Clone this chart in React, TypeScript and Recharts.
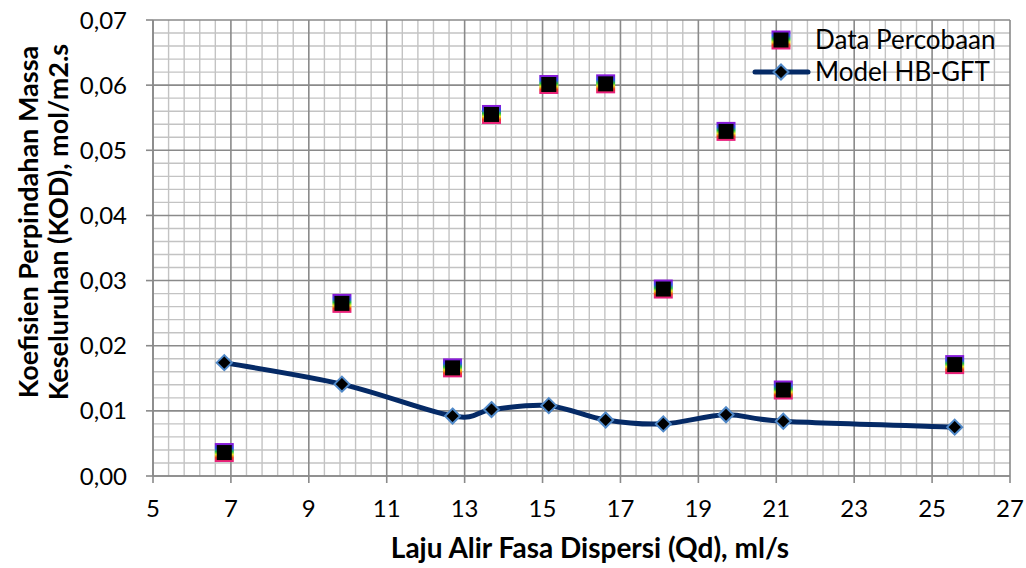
import React from "react";
import { LineChart, Line, XAxis, YAxis, ReferenceLine } from "recharts";

const qd = [6.83, 9.85, 12.69, 13.69, 15.16, 16.62, 18.1, 19.71, 21.18, 25.58];
const dataPercobaan = [0.0036, 0.0265, 0.0166, 0.0555, 0.0601, 0.0602, 0.0287, 0.0529, 0.0132, 0.0171];
const modelHB = [0.0174, 0.0141, 0.0092, 0.0102, 0.0108, 0.0086, 0.008, 0.0094, 0.0084, 0.0075];

const xTicks = [5, 7, 9, 11, 13, 15, 17, 19, 21, 23, 25, 27];
const yTicks = [0, 0.01, 0.02, 0.03, 0.04, 0.05, 0.06, 0.07];
const xMinorStep = 0.4;
const yMinorStep = 0.002;

const xTitle = "Laju Alir Fasa Dispersi (Qd), ml/s";
const yTitle1 = "Koefisien Perpindahan Massa";
const yTitle2 = "Keseluruhan (KOD), mol/m2.s";
const legendExp = "Data Percobaan";
const legendModel = "Model HB-GFT";

const rows = qd.map((x, i) => ({ x, exp: dataPercobaan[i], model: modelHB[i] }));

const minorX: number[] = [];
for (let k = 0; k <= 55; k++) {
  const v = +(5 + k * xMinorStep).toFixed(2);
  if (!xTicks.includes(v)) minorX.push(v);
}
const minorY: number[] = [];
for (let k = 0; k <= 35; k++) {
  const v = +(k * yMinorStep).toFixed(4);
  if (!yTicks.some((t) => Math.abs(t - v) < 1e-9)) minorY.push(v);
}

const FONT = "Lato, 'Open Sans', sans-serif";
const MINOR = "#c3c3c3";
const MAJOR = "#8a8a8a";
const LINE = "#052a66";
const DIAMOND_STROKE = "#4f88c8";

// Excel-like smoothed curve (Catmull-Rom as Bezier)
const excelCurve = (context: any) => {
  let pts: number[][] = [];
  return {
    areaStart() {},
    areaEnd() {},
    lineStart() {
      pts = [];
    },
    point(x: number, y: number) {
      pts.push([x, y]);
    },
    lineEnd() {
      const n = pts.length;
      if (!n) return;
      context.moveTo(pts[0][0], pts[0][1]);
      for (let i = 0; i < n - 1; i++) {
        const p0 = pts[Math.max(i - 1, 0)];
        const p1 = pts[i];
        const p2 = pts[i + 1];
        const p3 = pts[Math.min(i + 2, n - 1)];
        context.bezierCurveTo(
          p1[0] + (p2[0] - p0[0]) / 6,
          p1[1] + (p2[1] - p0[1]) / 6,
          p2[0] - (p3[0] - p1[0]) / 6,
          p2[1] - (p3[1] - p1[1]) / 6,
          p2[0],
          p2[1]
        );
      }
    },
  };
};

const SquareDot = (props: any) => {
  const { cx, cy } = props;
  if (cx == null || cy == null) return null;
  return (
    <rect x={cx - 8.5} y={cy - 8.5} width={17} height={17} fill="#000" stroke="url(#rainbow)" strokeWidth={2} />
  );
};

const DiamondDot = (props: any) => {
  const { cx, cy } = props;
  if (cx == null || cy == null) return null;
  const r = 7.5;
  return (
    <polygon
      points={`${cx},${cy - r} ${cx + r},${cy} ${cx},${cy + r} ${cx - r},${cy}`}
      fill="#000"
      stroke={DIAMOND_STROKE}
      strokeWidth={2}
    />
  );
};

const Gradient = () => (
  <svg width={0} height={0} style={{ position: "absolute" }}>
    <defs>
      <linearGradient id="rainbow" x1="0" y1="0" x2="0" y2="1">
        <stop offset="0%" stopColor="#8a1ad8" />
        <stop offset="25%" stopColor="#3050f0" />
        <stop offset="45%" stopColor="#20c040" />
        <stop offset="62%" stopColor="#e8e020" />
        <stop offset="80%" stopColor="#f04020" />
        <stop offset="100%" stopColor="#e8207e" />
      </linearGradient>
    </defs>
  </svg>
);

export default function App() {
  return (
    <div style={{ position: "absolute", left: 0, top: 0, width: 1026, height: 568, fontFamily: FONT }}>
      <Gradient />
      <LineChart width={1026} height={568} data={rows} margin={{ top: 20, right: 16, bottom: 32, left: 0 }}>
        {minorX.map((v) => (
          <ReferenceLine key={"mx" + v} x={v} stroke={MINOR} strokeWidth={1.4} />
        ))}
        {minorY.map((v) => (
          <ReferenceLine key={"my" + v} y={v} stroke={MINOR} strokeWidth={1.4} />
        ))}
        {xTicks.map((v) => (
          <ReferenceLine key={"Mx" + v} x={v} stroke={MAJOR} strokeWidth={1.6} />
        ))}
        {yTicks.map((v) => (
          <ReferenceLine key={"My" + v} y={v} stroke={MAJOR} strokeWidth={1.6} />
        ))}
        <XAxis
          type="number"
          dataKey="x"
          domain={[5, 27]}
          ticks={xTicks}
          interval={0}
          height={60}
          tickSize={7}
          tickMargin={17}
          axisLine={{ stroke: MAJOR, strokeWidth: 1.6 }}
          tickLine={{ stroke: MAJOR, strokeWidth: 1.6 }}
          tick={{ fill: "#000", fontSize: 24, fontFamily: FONT }}
        />
        <YAxis
          type="number"
          domain={[0, 0.07]}
          ticks={yTicks}
          interval={0}
          width={153}
          tickSize={7}
          tickMargin={19}
          tickFormatter={(v: number) => v.toFixed(2).replace(".", ",")}
          axisLine={{ stroke: MAJOR, strokeWidth: 1.6 }}
          tickLine={{ stroke: MAJOR, strokeWidth: 1.6 }}
          tick={{ fill: "#000", fontSize: 24, fontFamily: FONT }}
        />
        <Line
          dataKey="model"
          type={excelCurve as any}
          stroke={LINE}
          strokeWidth={5}
          dot={<DiamondDot />}
          activeDot={false}
          isAnimationActive={false}
          legendType="none"
        />
        <Line
          dataKey="exp"
          stroke="none"
          dot={<SquareDot />}
          activeDot={false}
          isAnimationActive={false}
          legendType="none"
        />
      </LineChart>
      <svg
        width={1026}
        height={568}
        style={{ position: "absolute", left: 0, top: 0, pointerEvents: "none" }}
        fontFamily={FONT}
      >
        <text x={590} y={558} textAnchor="middle" fontSize={28} fontWeight="bold" fill="#000">
          {xTitle}
        </text>
        <text x={38} y={222} textAnchor="middle" fontSize={27} fontWeight="bold" fill="#000" transform="rotate(-90 38 222)">
          {yTitle1}
        </text>
        <text x={68} y={222} textAnchor="middle" fontSize={27} fontWeight="bold" fill="#000" transform="rotate(-90 68 222)">
          {yTitle2}
        </text>
        <rect x={772.5} y={31.5} width={17} height={17} fill="#000" stroke="url(#rainbow)" strokeWidth={2} />
        <text x={815} y={49} fontSize={26} fill="#000">
          {legendExp}
        </text>
        <line x1={755} y1={72} x2={808} y2={72} stroke={LINE} strokeWidth={5} strokeLinecap="round" />
        <polygon points="781,64.5 788.5,72 781,79.5 773.5,72" fill="#000" stroke={DIAMOND_STROKE} strokeWidth={2} />
        <text x={815} y={81} fontSize={26} fill="#000">
          {legendModel}
        </text>
      </svg>
    </div>
  );
}
